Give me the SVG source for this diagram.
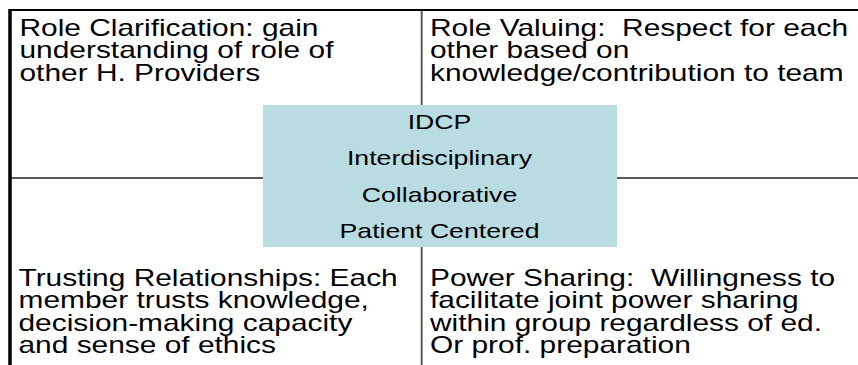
<svg xmlns="http://www.w3.org/2000/svg" width="858" height="365" viewBox="0 0 858 365">
<style>
.q{font-family:"Liberation Sans",Arial,sans-serif;font-size:23px;fill:#000;white-space:pre}
.c{font-family:"Liberation Sans",Arial,sans-serif;font-size:20.5px;fill:#000;text-anchor:middle}
.grid{stroke:#5a5a5a;stroke-width:2;fill:none}
.border{stroke:#000;fill:none}
</style>
<rect width="858" height="365" fill="#fff"/>
<g id="connectors">
<line class="grid" x1="10" y1="178" x2="858" y2="178"/>
<line class="grid" x1="421.7" y1="10" x2="421.7" y2="365"/>
<line class="border" stroke-width="2" x1="9" y1="10" x2="858" y2="10"/>
<line class="border" stroke-width="3.5" x1="10" y1="9" x2="10" y2="365"/>
</g>
<g id="role-clarification" transform="translate(19.5,0) scale(1.3,1)">
<text class="q" x="0" y="36">Role Clarification: gain</text>
<text class="q" x="0" y="58.5">understanding of role of</text>
<text class="q" x="0" y="81">other H. Providers</text>
</g>
<g id="role-valuing" transform="translate(430,0) scale(1.3,1)">
<text class="q" x="0" y="36" xml:space="preserve">Role Valuing:  Respect for each</text>
<text class="q" x="0" y="58.5">other based on</text>
<text class="q" x="0" y="81">knowledge/contribution to team</text>
</g>
<g id="trusting-relationships" transform="translate(18.5,0) scale(1.3,1)">
<text class="q" x="0" y="285.7">Trusting Relationships: Each</text>
<text class="q" x="0" y="308.3">member trusts knowledge,</text>
<text class="q" x="0" y="330.8">decision-making capacity</text>
<text class="q" x="0" y="353.3">and sense of ethics</text>
</g>
<g id="power-sharing" transform="translate(430,0) scale(1.3,1)">
<text class="q" x="0" y="285.7" xml:space="preserve">Power Sharing:  Willingness to</text>
<text class="q" x="0" y="308.3">facilitate joint power sharing</text>
<text class="q" x="0" y="330.8">within group regardless of ed.</text>
<text class="q" x="0" y="353.3">Or prof. preparation</text>
</g>
<g id="idcp">
<rect x="263" y="105" width="354" height="142" fill="#b9dce2"/>
<g transform="translate(439.5,0) scale(1.3,1)">
<text class="c" x="0" y="129.3">IDCP</text>
<text class="c" x="0" y="165.5">Interdisciplinary</text>
<text class="c" x="0" y="202">Collaborative</text>
<text class="c" x="0" y="238.3">Patient Centered</text>
</g>
</g>
</svg>
